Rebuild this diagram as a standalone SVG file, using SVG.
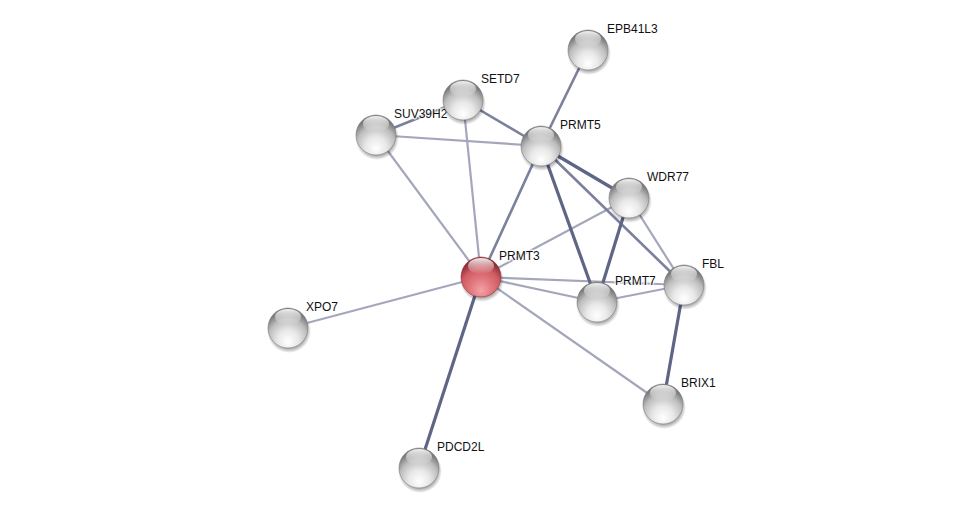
<svg xmlns="http://www.w3.org/2000/svg" width="976" height="513" viewBox="0 0 976 513">
<defs>
<radialGradient id="gGray" cx="50%" cy="75%" r="65%" fx="50%" fy="85%">
<stop offset="0" stop-color="#ffffff"/>
<stop offset="0.4" stop-color="#e8e8e8"/>
<stop offset="0.75" stop-color="#bdbdbd"/>
<stop offset="1" stop-color="#7c7c7c"/>
</radialGradient>
<radialGradient id="gRed" cx="50%" cy="75%" r="65%" fx="50%" fy="85%">
<stop offset="0" stop-color="#f4a3a6"/>
<stop offset="0.4" stop-color="#e27980"/>
<stop offset="0.75" stop-color="#d05a62"/>
<stop offset="1" stop-color="#8e3038"/>
</radialGradient>
<linearGradient id="gHi" x1="0" y1="0" x2="0" y2="1">
<stop offset="0" stop-color="#ffffff" stop-opacity="0.9"/>
<stop offset="1" stop-color="#ffffff" stop-opacity="0"/>
</linearGradient>
<radialGradient id="gShadow" cx="50%" cy="50%" r="50%">
<stop offset="0.75" stop-color="#000" stop-opacity="0.4"/>
<stop offset="1" stop-color="#000" stop-opacity="0"/>
</radialGradient>
</defs>
<style>
.e{fill:none;stroke-linecap:butt}
.d{stroke:#5f6585;stroke-width:3.2}
.m{stroke:#7b809c;stroke-width:2.6}
.l{stroke:#a4a7bb;stroke-width:2.2}
.sh{fill:url(#gShadow)}
.b{fill:url(#gGray);stroke:#7f7f7f;stroke-width:0.6}
.r{fill:url(#gRed);stroke:#913840;stroke-width:0.6}
.hi{fill:url(#gHi)}
text{font-family:"Liberation Sans",Arial,sans-serif;font-size:12px;fill:#111;stroke:#ffffff;stroke-width:3;stroke-opacity:0.7;paint-order:stroke;stroke-linejoin:round}
</style>
<rect width="976" height="513" fill="#ffffff"/>
<g id="edges">
<line class="e l" x1="481" y1="277" x2="376" y2="135"/>
<line class="e l" x1="481" y1="277" x2="463" y2="100"/>
<line class="e m" x1="481" y1="277" x2="541" y2="146"/>
<line class="e l" x1="481" y1="277" x2="629" y2="198"/>
<line class="e l" x1="481" y1="277" x2="597" y2="302"/>
<line class="e l" x1="481" y1="277" x2="684" y2="285"/>
<line class="e l" x1="481" y1="277" x2="663" y2="404"/>
<line class="e l" x1="481" y1="277" x2="288" y2="328"/>
<line class="e d" x1="481" y1="277" x2="419" y2="468"/>
<line class="e m" x1="463" y1="100" x2="541" y2="146"/>
<line class="e l" x1="376" y1="135" x2="541" y2="146"/>
<line class="e m" x1="376" y1="135" x2="463" y2="100"/>
<line class="e m" x1="588" y1="50" x2="541" y2="146"/>
<line class="e d" x1="541" y1="146" x2="629" y2="198"/>
<line class="e d" x1="541" y1="146" x2="597" y2="302"/>
<line class="e m" x1="541" y1="146" x2="684" y2="285"/>
<line class="e d" x1="629" y1="198" x2="597" y2="302"/>
<line class="e l" x1="629" y1="198" x2="684" y2="285"/>
<line class="e l" x1="597" y1="302" x2="684" y2="285"/>
<line class="e d" x1="684" y1="285" x2="663" y2="404"/>
</g>
<g id="node-SUV39H2"><circle class="sh" cx="377" cy="138" r="22"/><circle class="b" cx="376" cy="135" r="20"/><ellipse class="hi" cx="376" cy="124" rx="13" ry="8"/><text x="394" y="118">SUV39H2</text></g>
<g id="node-SETD7"><circle class="sh" cx="464" cy="103" r="22"/><circle class="b" cx="463" cy="100" r="20"/><ellipse class="hi" cx="463" cy="89" rx="13" ry="8"/><text x="481" y="83">SETD7</text></g>
<g id="node-EPB41L3"><circle class="sh" cx="589" cy="53" r="22"/><circle class="b" cx="588" cy="50" r="20"/><ellipse class="hi" cx="588" cy="39" rx="13" ry="8"/><text x="607" y="33">EPB41L3</text></g>
<g id="node-PRMT5"><circle class="sh" cx="542" cy="149" r="22"/><circle class="b" cx="541" cy="146" r="20"/><ellipse class="hi" cx="541" cy="135" rx="13" ry="8"/><text x="560" y="129">PRMT5</text></g>
<g id="node-WDR77"><circle class="sh" cx="630" cy="201" r="22"/><circle class="b" cx="629" cy="198" r="20"/><ellipse class="hi" cx="629" cy="187" rx="13" ry="8"/><text x="647" y="181">WDR77</text></g>
<g id="node-FBL"><circle class="sh" cx="685" cy="288" r="22"/><circle class="b" cx="684" cy="285" r="20"/><ellipse class="hi" cx="684" cy="274" rx="13" ry="8"/><text x="702" y="268">FBL</text></g>
<g id="node-PRMT7"><circle class="sh" cx="598" cy="305" r="22"/><circle class="b" cx="597" cy="302" r="20"/><ellipse class="hi" cx="597" cy="291" rx="13" ry="8"/><text x="615" y="285">PRMT7</text></g>
<g id="node-PRMT3"><circle class="sh" cx="482" cy="280" r="22"/><circle class="r" cx="481" cy="277" r="20"/><ellipse class="hi" cx="481" cy="266" rx="13" ry="8"/><text x="499" y="260">PRMT3</text></g>
<g id="node-XPO7"><circle class="sh" cx="289" cy="331" r="22"/><circle class="b" cx="288" cy="328" r="20"/><ellipse class="hi" cx="288" cy="317" rx="13" ry="8"/><text x="306" y="311">XPO7</text></g>
<g id="node-BRIX1"><circle class="sh" cx="664" cy="407" r="22"/><circle class="b" cx="663" cy="404" r="20"/><ellipse class="hi" cx="663" cy="393" rx="13" ry="8"/><text x="681" y="387">BRIX1</text></g>
<g id="node-PDCD2L"><circle class="sh" cx="420" cy="471" r="22"/><circle class="b" cx="419" cy="468" r="20"/><ellipse class="hi" cx="419" cy="457" rx="13" ry="8"/><text x="437" y="451">PDCD2L</text></g>
</svg>
